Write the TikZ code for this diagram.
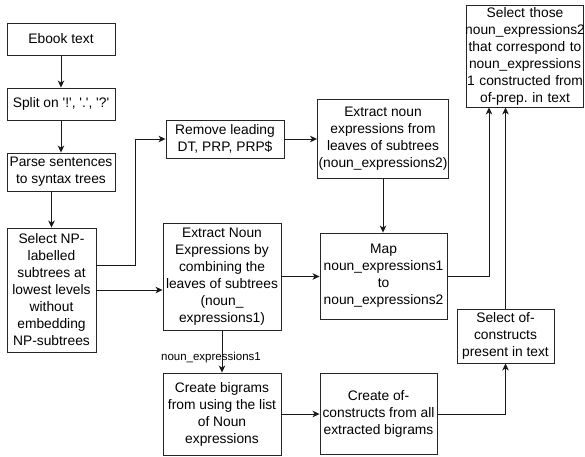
\documentclass[tikz,border=0pt]{standalone}
\usepackage{fontspec}
\setmainfont{Liberation Sans}[Ligatures=TeXOff]
\usetikzlibrary{arrows.meta}
\frenchspacing

\tikzset{
  box/.style={draw=black!85, line width=0.9pt, rectangle, align=center,
    inner sep=0pt, font=\fontsize{13.8}{17}\selectfont},
  arr/.style={draw=black!90, line width=0.9pt,
    -{Stealth[length=7pt,width=6.5pt,inset=2pt]}},
  lbl/.style={inner sep=0pt, font=\fontsize{11.5}{13}\selectfont}
}

\begin{document}
\begin{tikzpicture}[x=1pt,y=-1pt]
\useasboundingbox (0,0) rectangle (585,456);

% processing steps
\node[box, minimum width=108pt, minimum height=32pt] (ebook) at (61,39) {Ebook text};
\node[box, minimum width=108pt, minimum height=32pt] (split) at (61,104) {Split on '!', '.', '?'};
\node[box, minimum width=108pt, minimum height=38pt] (parse) at (61,172) {Parse sentences\\to syntax trees};
\node[box, minimum width=89pt, minimum height=124pt] (selnp) at (51.5,290)
  {Select NP-\\labelled\\subtrees at\\lowest levels\\without\\embedding\\NP-subtrees};
\node[box, minimum width=118pt, minimum height=38pt] (remove) at (225,139) {Remove leading\\DT, PRP, PRP\$};
\node[box, minimum width=118pt, minimum height=107pt] (extr1) at (222,276.5)
  {Extract Noun\\Expressions by\\combining the\\leaves of subtrees\\(noun\_\\expressions1)};
\node[box, minimum width=131pt, minimum height=79pt] (extr2) at (383,138.5)
  {Extract noun\\expressions from\\leaves of subtrees\\(noun\_expressions2)};
\node[box, minimum width=127pt, minimum height=86pt] (map) at (383.5,276)
  {Map\\noun\_expressions1\\to\\noun\_expressions2};
\node[box, minimum width=118pt, minimum height=82pt] (bigr) at (222,414)
  {Create bigrams\\from using the list\\of Noun\\expressions};
\node[box, minimum width=117pt, minimum height=81pt] (ofc) at (378.5,414)
  {Create of-\\constructs from all\\extracted bigrams};
\node[box, minimum width=97pt, minimum height=54pt] (selof) at (505.5,336)
  {Select of-\\constructs\\present in text};
\node[box, minimum width=117pt, minimum height=102pt, text width=117pt] (selth) at (525,56)
  {Select those\\\makebox[\linewidth]{noun\_expressions2}\\that correspond to\\noun\_expressions\\1 constructed from\\of-prep. in text};

% connectors
\draw[arr] (ebook) -- (split);
\draw[arr] (split) -- (parse);
\draw[arr] (parse.south -| selnp.north) -- (selnp.north);
\draw[arr] ([yshift=25pt]selnp.east) -- ++(39,0) |- (remove.west);
\draw[arr] (selnp.east) -- (selnp.east -| extr1.west);
\draw[arr] (remove.east) -- (remove.east -| extr2.west);
\draw[arr] (extr2.south) -- (extr2.south |- map.north);
\draw[arr] (extr1.east) -- (extr1.east -| map.west);
\draw[arr] (map.east) -| ([xshift=-36pt]selth.south);
\draw[arr] (extr1.south) -- (extr1.south |- bigr.north);
\node[lbl] (nelabel) at (211,358) {noun\_expressions1};
\draw[arr] (bigr.east) -- (bigr.east -| ofc.west);
\draw[arr] (ofc.east) -| (selof.south);
\draw[arr] (selof.north) -- (selof.north |- selth.south);
\end{tikzpicture}
\end{document}
